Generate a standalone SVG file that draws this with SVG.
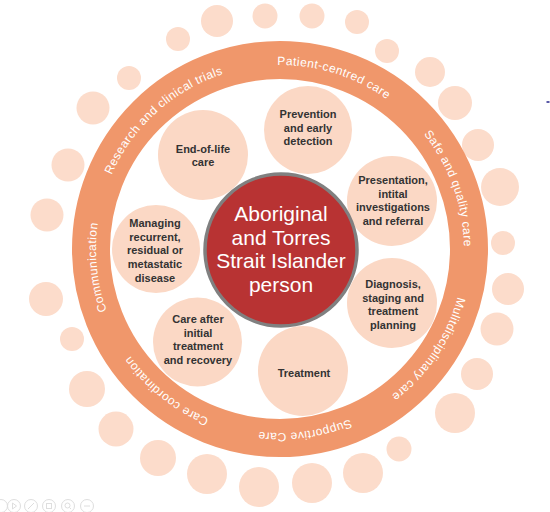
<svg xmlns="http://www.w3.org/2000/svg" xmlns:xlink="http://www.w3.org/1999/xlink" width="550" height="512" viewBox="0 0 550 512">
  <style>
    .dot { fill: #fcdccb; }
    .inner { fill: #fbd8c5; }
    .ring { fill: none; stroke: #f0976b; stroke-width: 38; }
    .rt { font-family: "Liberation Sans", Arial, sans-serif; font-size: 12px; fill: #ffffff; letter-spacing: 0.45px; }
    .it { font-family: "Liberation Sans", Arial, sans-serif; font-size: 11px; font-weight: bold; fill: #333333; text-anchor: middle; }
    .ct { font-family: "Liberation Sans", Arial, sans-serif; font-size: 21px; fill: #ffffff; text-anchor: middle; }
    .ic { fill: none; stroke: #dedede; stroke-width: 1; }
  </style>
  <defs>
    <path id="rp" d="M120.65,341 A184,184 0 1,1 439.35,157 A184,184 0 1,1 120.65,341"/>
  </defs>
  <rect width="550" height="512" fill="#ffffff"/>

  <g id="outer-dots">
    <circle class="dot" cx="129" cy="78" r="12"/>
    <circle class="dot" cx="178" cy="39" r="12"/>
    <circle class="dot" cx="217" cy="21" r="16"/>
    <circle class="dot" cx="265" cy="16" r="12.5"/>
    <circle class="dot" cx="312" cy="16" r="12.5"/>
    <circle class="dot" cx="357" cy="22" r="12"/>
    <circle class="dot" cx="387" cy="51" r="12"/>
    <circle class="dot" cx="430" cy="72" r="15"/>
    <circle class="dot" cx="455" cy="103" r="17"/>
    <circle class="dot" cx="478" cy="145" r="16"/>
    <circle class="dot" cx="500" cy="187" r="19"/>
    <circle class="dot" cx="503" cy="243" r="12"/>
    <circle class="dot" cx="508" cy="289" r="16"/>
    <circle class="dot" cx="497" cy="329" r="16.5"/>
    <circle class="dot" cx="477" cy="374" r="16"/>
    <circle class="dot" cx="455" cy="413" r="20"/>
    <circle class="dot" cx="399" cy="449" r="12.5"/>
    <circle class="dot" cx="363" cy="473" r="20"/>
    <circle class="dot" cx="312" cy="483" r="20"/>
    <circle class="dot" cx="259" cy="487" r="20"/>
    <circle class="dot" cx="207" cy="474" r="20"/>
    <circle class="dot" cx="158" cy="458" r="18"/>
    <circle class="dot" cx="116" cy="429" r="17.5"/>
    <circle class="dot" cx="87" cy="389" r="18"/>
    <circle class="dot" cx="72" cy="339" r="12"/>
    <circle class="dot" cx="46" cy="299" r="17"/>
    <circle class="dot" cx="47" cy="215" r="16.5"/>
    <circle class="dot" cx="68" cy="165" r="16.5"/>
    <circle class="dot" cx="93" cy="108" r="16.5"/>
  </g>

  <g id="ring">
    <circle class="ring" cx="280" cy="249" r="189"/>
    <text class="rt"><textPath xlink:href="#rp" href="#rp" startOffset="78" text-anchor="middle">Communication</textPath></text>
    <text class="rt"><textPath xlink:href="#rp" href="#rp" startOffset="250" text-anchor="middle">Research and clinical trials</textPath></text>
    <text class="rt"><textPath xlink:href="#rp" href="#rp" startOffset="441" text-anchor="middle">Patient-centred care</textPath></text>
    <text class="rt"><textPath xlink:href="#rp" href="#rp" startOffset="611" text-anchor="middle">Safe and quality care</textPath></text>
    <text class="rt"><textPath xlink:href="#rp" href="#rp" startOffset="783" text-anchor="middle">Mulitdisciplinary care</textPath></text>
    <text class="rt"><textPath xlink:href="#rp" href="#rp" startOffset="938" text-anchor="middle">Supportive Care</textPath></text>
    <text class="rt"><textPath xlink:href="#rp" href="#rp" startOffset="1087" text-anchor="middle">Care coordination</textPath></text>
  </g>

  <g id="connectors"></g>

  <g id="node-end-of-life">
    <circle class="inner" cx="203" cy="155" r="45"/>
    <text class="it" x="203" y="152.5">End-of-life</text>
    <text class="it" x="203" y="166">care</text>
  </g>
  <g id="node-prevention">
    <circle class="inner" cx="308" cy="130" r="44"/>
    <text class="it" x="308" y="118">Prevention</text>
    <text class="it" x="308" y="131.5">and early</text>
    <text class="it" x="308" y="145">detection</text>
  </g>
  <g id="node-presentation">
    <circle class="inner" cx="392" cy="201" r="45"/>
    <text class="it" x="393" y="184">Presentation,</text>
    <text class="it" x="393" y="197.5">intital</text>
    <text class="it" x="393" y="211">investigations</text>
    <text class="it" x="393" y="224.5">and referral</text>
  </g>
  <g id="node-diagnosis">
    <circle class="inner" cx="392" cy="303" r="45"/>
    <text class="it" x="393" y="288">Diagnosis,</text>
    <text class="it" x="393" y="301.5">staging and</text>
    <text class="it" x="393" y="315">treatment</text>
    <text class="it" x="393" y="328.5">planning</text>
  </g>
  <g id="node-treatment">
    <circle class="inner" cx="303" cy="371" r="45"/>
    <text class="it" x="304" y="377">Treatment</text>
  </g>
  <g id="node-care-after">
    <circle class="inner" cx="197.5" cy="342" r="44.5"/>
    <text class="it" x="198" y="323">Care after</text>
    <text class="it" x="198" y="336.5">initial</text>
    <text class="it" x="198" y="350">treatment</text>
    <text class="it" x="198" y="363.5">and recovery</text>
  </g>
  <g id="node-managing">
    <circle class="inner" cx="156" cy="249" r="44"/>
    <text class="it" x="155" y="227">Managing</text>
    <text class="it" x="155" y="240.7">recurrent,</text>
    <text class="it" x="155" y="254.4">residual or</text>
    <text class="it" x="155" y="268.1">metastatic</text>
    <text class="it" x="155" y="281.8">disease</text>
  </g>

  <g id="node-center">
    <circle cx="281" cy="250" r="76" fill="#b83333" stroke="#808080" stroke-width="3.5"/>
    <text class="ct" x="281" y="221">Aboriginal</text>
    <text class="ct" x="281" y="244.5">and Torres</text>
    <text class="ct" x="281" y="268">Strait Islander</text>
    <text class="ct" x="281" y="291.5">person</text>
  </g>

  <g id="player-icons">
    <circle class="ic" cx="1" cy="506" r="6.5"/>
    <circle class="ic" cx="14" cy="506" r="6.5"/>
    <path class="ic" d="M12.5,503 L16.5,506 L12.5,509 Z"/>
    <circle class="ic" cx="31" cy="506" r="6.5"/>
    <path class="ic" d="M28,509 L34,503"/>
    <circle class="ic" cx="49" cy="506" r="6.5"/>
    <rect class="ic" x="46.5" y="503.5" width="5" height="5"/>
    <circle class="ic" cx="68" cy="506" r="6.5"/>
    <circle class="ic" cx="67.5" cy="505.5" r="2.5"/>
    <path class="ic" d="M69.5,507.5 L71,509"/>
    <circle class="ic" cx="87" cy="506" r="6.5"/>
    <path class="ic" d="M84,506 L90,506"/>
  </g>
  <rect x="546.5" y="101" width="3" height="2" fill="#5a5aa8"/>
</svg>
